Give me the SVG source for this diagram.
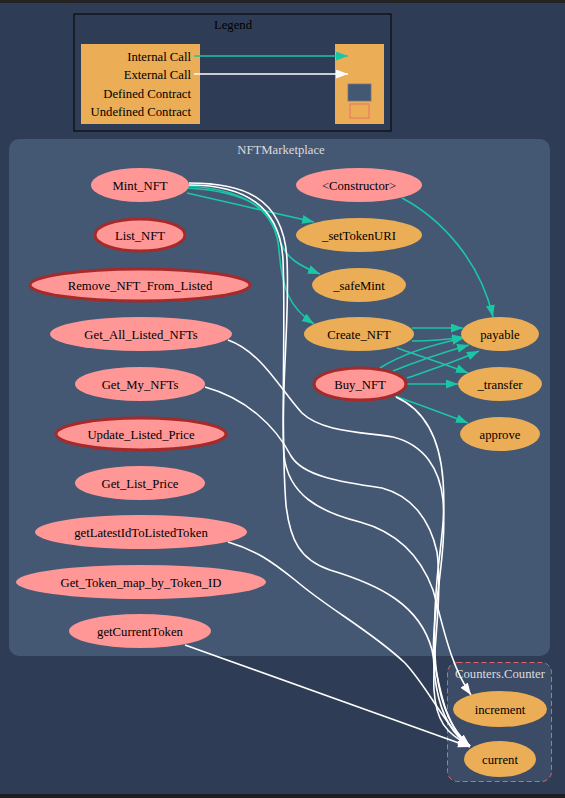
<svg xmlns="http://www.w3.org/2000/svg" width="565" height="798" viewBox="0 0 565 798">
<style>
text{font-family:"Liberation Serif","Times New Roman",serif;font-size:12.7px;fill:#000;text-anchor:middle}
.ct{fill:#dcdcdc}
.def{fill:#ff9797;stroke:none}
.thick{fill:#ff9797;stroke:#a52a2a;stroke-width:3}
.ext{fill:#ebad55;stroke:none}
.int{fill:none;stroke:#1bc6a6;stroke-width:1.6;marker-end:url(#at)}
.ex{fill:none;stroke:#fff;stroke-width:1.6;marker-end:url(#aw)}
</style>
<defs>
<marker id="at" markerUnits="userSpaceOnUse" markerWidth="14" markerHeight="10" refX="12" refY="4.5" orient="auto"><path d="M0,0 L12,4.5 L0,9 z" fill="#1bc6a6"/></marker>
<marker id="aw" markerUnits="userSpaceOnUse" markerWidth="14" markerHeight="10" refX="12" refY="4.5" orient="auto"><path d="M0,0 L12,4.5 L0,9 z" fill="#fff"/></marker>
</defs>
<rect x="0" y="0" width="565" height="798" fill="#2e3d55"/>
<rect x="0" y="0" width="565" height="3" fill="#232323"/>
<rect x="0" y="794" width="565" height="4" fill="#1f1f1f"/>

<g id="legend">
<rect x="74" y="14" width="317" height="117" fill="#2e3d55" stroke="#000" stroke-width="1"/>
<text x="233" y="29">Legend</text>
<rect x="81" y="44" width="119" height="80" fill="#ebad55"/>
<text x="191" y="61" style="text-anchor:end">Internal Call</text>
<text x="191" y="79" style="text-anchor:end">External Call</text>
<text x="191" y="98" style="text-anchor:end">Defined Contract</text>
<text x="191" y="116" style="text-anchor:end">Undefined Contract</text>
<rect x="335" y="44" width="49" height="80" fill="#ebad55"/>
<rect x="348" y="84" width="23" height="17" fill="#445773" stroke="#777" stroke-width="0.8"/>
<rect x="350" y="104" width="19" height="14" fill="none" stroke="#e8736f" stroke-width="1"/>
<path class="int" d="M194,56 L348,56"/>
<path class="ex" d="M194,74 L348,74"/>
</g>

<g id="cluster_NFTMarketplace">
<rect x="9" y="139" width="541" height="517" rx="10" fill="#445773"/>
<text class="ct" x="281" y="154">NFTMarketplace</text>
</g>
<g id="cluster_Counters">
<rect x="447.5" y="662.5" width="104" height="119" rx="10" fill="#3c4b66" stroke="#d9676f" stroke-width="1" stroke-dasharray="5,3"/>
<text class="ct" x="500" y="678">Counters.Counter</text>
</g>

<g id="connectors">
<path class="int" d="M187,193 C230,203 270,212 314,222"/>
<path class="int" d="M188,188 C250,192 272,210 280,240 C285,258 300,266 320,274"/>
<path class="int" d="M188,186 C250,190 276,212 279,250 C282,290 290,308 314,324"/>
<path class="int" d="M402,198 C440,218 480,260 493,317"/>
<path class="int" d="M412,328 L463,328"/>
<path class="int" d="M412,341 C430,341 445,340 464,337"/>
<path class="int" d="M397,348 C420,356 445,364 468,373"/>
<path class="int" d="M380,368 C405,352 435,344 464,338"/>
<path class="int" d="M393,371 C420,360 445,352 469,345"/>
<path class="int" d="M407,378 C430,370 455,362 479,351"/>
<path class="int" d="M407,384 L458,384"/>
<path class="int" d="M395,396 C420,405 445,414 468,423"/>

<path class="ex" d="M189,183 C240,183 284,195 287,260 C290,320 280,400 284,455 C288,495 320,512 360,522 C400,533 422,560 433,590 C443,625 450,665 471,695"/>
<path class="ex" d="M189,185 C235,185 280,200 283,260 C286,330 280,430 286,505 C290,540 300,560 330,570 C380,585 420,605 432,650 C440,690 445,727 470,746"/>
<path class="ex" d="M228,340 C262,352 282,392 302,413 C322,432 362,432 393,437 C425,445 440,470 443,500 C446,540 440,570 436,610 C430,660 432,722 470,746"/>
<path class="ex" d="M205,387 C245,398 275,425 291,456 C303,476 340,482 382,488 C412,496 430,520 437,552 C443,600 432,650 434,690 C436,720 445,733 470,746"/>
<path class="ex" d="M396,397 C425,410 440,440 443,480 C446,520 440,545 437,580 C432,640 430,712 470,746"/>
<path class="ex" d="M228,542 C255,550 270,560 295,580 C330,610 370,630 405,663 C430,690 445,727 470,746"/>
<path class="ex" d="M185,645 L470,747"/>
</g>

<g id="Mint_NFT"><ellipse class="def" cx="140" cy="185" rx="49" ry="17"/><text x="140" y="189.5">Mint_NFT</text></g>
<g id="List_NFT"><ellipse class="thick" cx="140" cy="235" rx="45" ry="16"/><text x="140" y="239.5">List_NFT</text></g>
<g id="Remove_NFT_From_Listed"><ellipse class="thick" cx="140" cy="285" rx="110" ry="16"/><text x="140" y="289.5">Remove_NFT_From_Listed</text></g>
<g id="Get_All_Listed_NFTs"><ellipse class="def" cx="141" cy="334" rx="91" ry="17"/><text x="141" y="338.5">Get_All_Listed_NFTs</text></g>
<g id="Get_My_NFTs"><ellipse class="def" cx="140" cy="384" rx="65" ry="17"/><text x="140" y="388.5">Get_My_NFTs</text></g>
<g id="Update_Listed_Price"><ellipse class="thick" cx="141" cy="434" rx="85" ry="16"/><text x="141" y="438.5">Update_Listed_Price</text></g>
<g id="Get_List_Price"><ellipse class="def" cx="140" cy="483" rx="65" ry="17"/><text x="140" y="487.5">Get_List_Price</text></g>
<g id="getLatestIdToListedToken"><ellipse class="def" cx="141" cy="532" rx="106" ry="17"/><text x="141" y="536.5">getLatestIdToListedToken</text></g>
<g id="Get_Token_map_by_Token_ID"><ellipse class="def" cx="141" cy="582" rx="125" ry="17"/><text x="141" y="586.5">Get_Token_map_by_Token_ID</text></g>
<g id="getCurrentToken"><ellipse class="def" cx="140" cy="631" rx="71" ry="17"/><text x="140" y="635.5">getCurrentToken</text></g>

<g id="Constructor"><ellipse class="def" cx="359" cy="185" rx="63" ry="17"/><text x="359" y="189.5">&lt;Constructor&gt;</text></g>
<g id="_setTokenURI"><ellipse class="ext" cx="359" cy="235" rx="63" ry="17"/><text x="359" y="239.5">_setTokenURI</text></g>
<g id="_safeMint"><ellipse class="ext" cx="359" cy="285" rx="47" ry="17"/><text x="359" y="289.5">_safeMint</text></g>
<g id="Create_NFT"><ellipse class="ext" cx="359" cy="334" rx="55" ry="17"/><text x="359" y="338.5">Create_NFT</text></g>
<g id="Buy_NFT"><ellipse class="thick" cx="360" cy="384" rx="46" ry="16"/><text x="360" y="388.5">Buy_NFT</text></g>
<g id="payable"><ellipse class="ext" cx="500" cy="334" rx="39" ry="17"/><text x="500" y="338.5">payable</text></g>
<g id="_transfer"><ellipse class="ext" cx="500" cy="384" rx="42" ry="17"/><text x="500" y="388.5">_transfer</text></g>
<g id="approve"><ellipse class="ext" cx="500" cy="434" rx="40" ry="17"/><text x="500" y="438.5">approve</text></g>
<g id="increment"><ellipse class="ext" cx="500" cy="709" rx="47" ry="18"/><text x="500" y="713.5">increment</text></g>
<g id="current"><ellipse class="ext" cx="500" cy="759" rx="36" ry="18"/><text x="500" y="763.5">current</text></g>
</svg>
